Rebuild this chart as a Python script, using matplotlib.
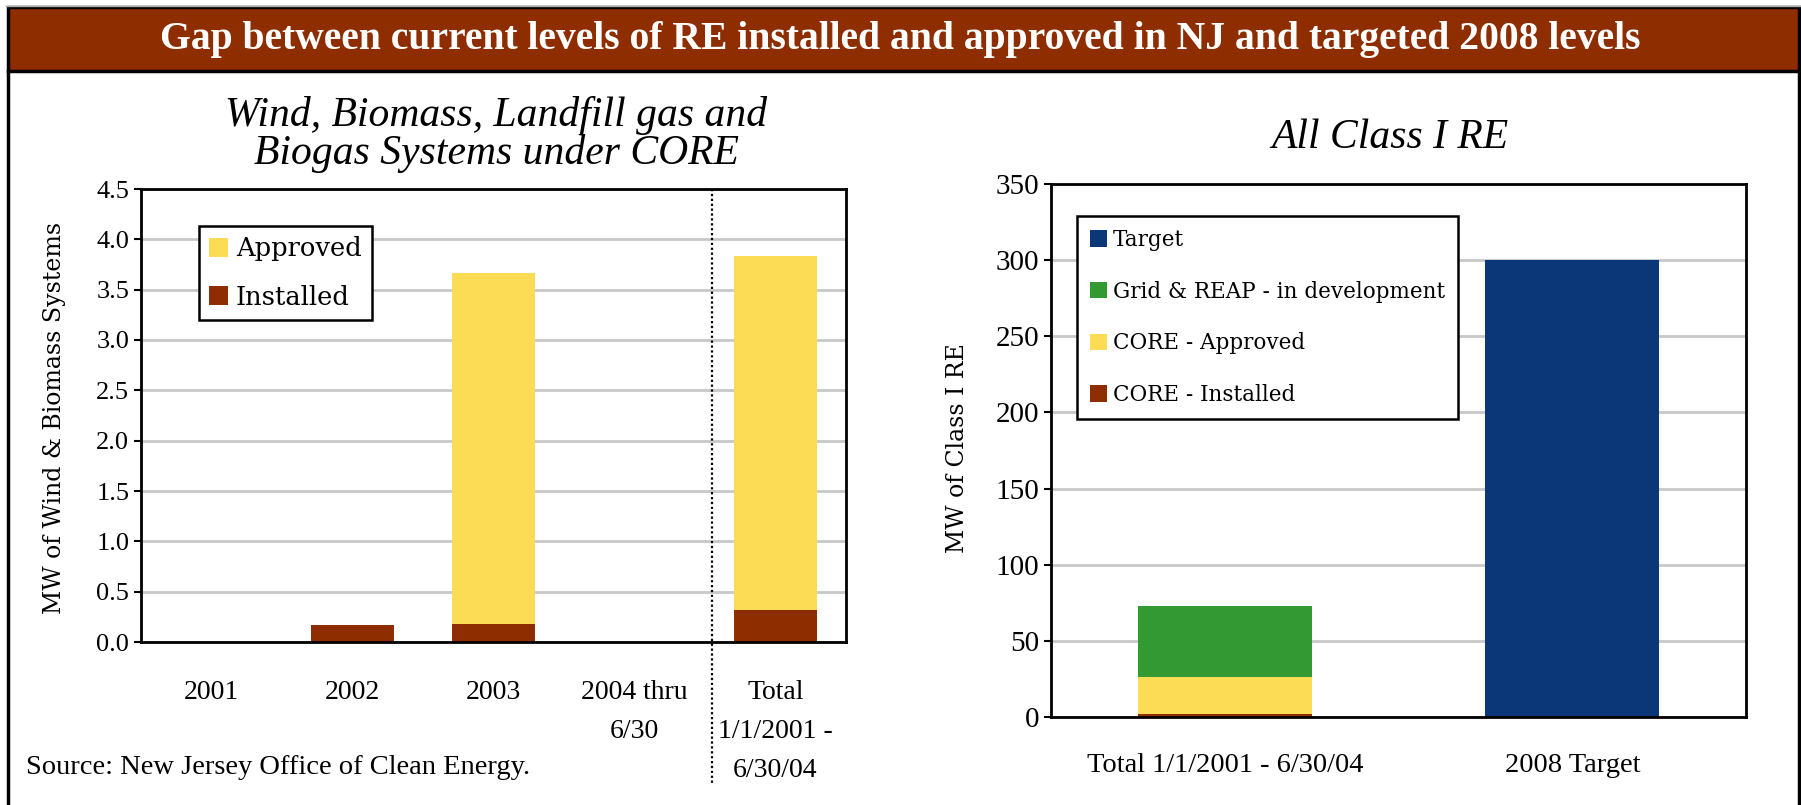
import matplotlib
matplotlib.use("Agg")
import matplotlib.pyplot as plt
from matplotlib.patches import Rectangle
from matplotlib.lines import Line2D
from matplotlib.transforms import blended_transform_factory
import numpy as np

# --- data -----------------------------------------------------------------
left_categories = ["2001", "2002", "2003", "2004 thru\n6/30", "Total\n1/1/2001 -\n6/30/04"]
left_installed = [0.0, 0.17, 0.18, 0.0, 0.32]
left_approved = [0.0, 0.0, 3.49, 0.0, 3.51]

right_categories = ["Total 1/1/2001 - 6/30/04", "2008 Target"]
core_installed = [2.2, 0.0]
core_approved = [23.9, 0.0]
grid_reap = [46.7, 0.0]
target = [0.0, 300.0]

BROWN = "#8E2D00"
YELLOW = "#FCDC54"
GREEN = "#339933"
NAVY = "#0B3677"
GRID = "#C8C8C8"

SERIF = ["Liberation Serif", "DejaVu Serif"]
WIDE = ["DejaVu Serif"]

W, H = 1801, 805
fig = plt.figure(figsize=(W / 100, H / 100), dpi=100)


def fx(px):
    return px / W


def fy(py):
    return 1 - py / H


# header band + frame
fig.add_artist(Line2D([fx(6), fx(1800)], [fy(6), fy(6)], color="#B0B0B0", lw=1))
fig.add_artist(Rectangle((fx(7.5), fy(71)), fx(1791), 64 / H, facecolor=BROWN,
                         edgecolor="black", lw=2.5, transform=fig.transFigure))
fig.add_artist(Line2D([fx(7.5), fx(7.5)], [fy(71), 0], color="black", lw=2.5))
fig.add_artist(Line2D([fx(1798.5), fx(1798.5)], [fy(71), 0], color="black", lw=2.5))
fig.text(0.5, fy(39), "Gap between current levels of RE installed and approved in NJ and targeted 2008 levels",
         ha="center", va="center", color="white", fontsize=28.5, fontweight="bold", family=SERIF)


def style_axes(ax):
    for s in ax.spines.values():
        s.set_color("black")
        s.set_linewidth(2)
    ax.set_axisbelow(True)
    ax.yaxis.grid(True, color=GRID, lw=2)
    ax.tick_params(axis="x", length=0)
    ax.tick_params(axis="y", direction="out", length=5, width=1.5)


# --- left chart -----------------------------------------------------------
axL = fig.add_axes([fx(141), fy(642), fx(705), 453 / H])
x = np.arange(len(left_categories))
axL.bar(x, left_installed, width=0.59, color=BROWN, label="Installed")
axL.bar(x, left_approved, width=0.59, bottom=left_installed, color=YELLOW, label="Approved")
axL.set_xlim(-0.5, len(left_categories) - 0.5)
axL.set_ylim(0, 4.5)
yt = np.arange(0, 4.51, 0.5)
axL.set_yticks(yt)
axL.set_yticklabels([f"{v:.1f}" for v in yt], family=SERIF, fontsize=19)
axL.set_xticks(x)
axL.set_xticklabels(left_categories, family=SERIF, fontsize=20, va="top")
for lab in axL.get_xticklabels():
    lab.set_linespacing(1.75)
style_axes(axL)
axL.tick_params(axis="x", pad=27)

trans = blended_transform_factory(axL.transData, axL.transAxes)
axL.plot([3.55, 3.55], [1.0, -0.311], transform=trans, color="black", lw=1.6,
         linestyle=(0, (1.0, 1.2)), clip_on=False)

h, l = axL.get_legend_handles_labels()
legL = axL.legend(h[::-1], l[::-1], loc="upper left", bbox_to_anchor=(0.0823, 0.918),
                  borderaxespad=0, prop={"family": WIDE, "size": 18.5}, frameon=True,
                  fancybox=False, edgecolor="black", framealpha=1, handlelength=0.73,
                  handleheight=0.73, handletextpad=0.3, labelspacing=0.9, borderpad=0.4)
legL.get_frame().set_linewidth(1.8)

fig.text(fx(496), fy(134.5), "Wind, Biomass, Landfill gas and\nBiogas Systems under CORE",
         ha="center", va="center", fontsize=30, style="italic", family=SERIF, linespacing=0.96)
fig.text(fx(54), fy(418), "MW of Wind & Biomass Systems", rotation=90, ha="center", va="center",
         fontsize=17, family=WIDE)
fig.text(fx(26), fy(767), "Source: New Jersey Office of Clean Energy.", ha="left", va="center",
         fontsize=20.5, family=SERIF)

# --- right chart ----------------------------------------------------------
axR = fig.add_axes([fx(1051), fy(717), fx(695), 533 / H])
xr = np.arange(len(right_categories))
b1 = np.array(core_installed)
b2 = b1 + np.array(core_approved)
b3 = b2 + np.array(grid_reap)
axR.bar(xr, core_installed, width=0.5, color=BROWN, label="CORE - Installed")
axR.bar(xr, core_approved, width=0.5, bottom=b1, color=YELLOW, label="CORE - Approved")
axR.bar(xr, grid_reap, width=0.5, bottom=b2, color=GREEN, label="Grid & REAP - in development")
axR.bar(xr, target, width=0.5, bottom=b3, color=NAVY, label="Target")
axR.set_xlim(-0.5, 1.5)
axR.set_ylim(0, 350)
axR.set_yticks(np.arange(0, 351, 50))
axR.set_yticklabels([str(v) for v in range(0, 351, 50)], family=SERIF, fontsize=21)
axR.set_xticks(xr)
axR.set_xticklabels(right_categories, family=SERIF, fontsize=20.5, va="top")
style_axes(axR)
axR.tick_params(axis="x", pad=26)

h, l = axR.get_legend_handles_labels()
legR = axR.legend(h[::-1], l[::-1], loc="upper left",
                  bbox_to_anchor=((1077 - 1051) / 695, (717 - 216) / 533),
                  borderaxespad=0, prop={"family": WIDE, "size": 15.5}, frameon=True,
                  fancybox=False, edgecolor="black", framealpha=1, handlelength=0.8,
                  handleheight=0.8, handletextpad=0.28, labelspacing=1.38, borderpad=0.6)
legR.get_frame().set_linewidth(1.8)

fig.text(fx(1390), fy(138), "All Class I RE", ha="center", va="center", fontsize=30,
         style="italic", family=SERIF)
fig.text(fx(957), fy(448), "MW of Class I RE", rotation=90, ha="center", va="center",
         fontsize=17, family=WIDE)

fig.savefig("out.png", dpi=100)
